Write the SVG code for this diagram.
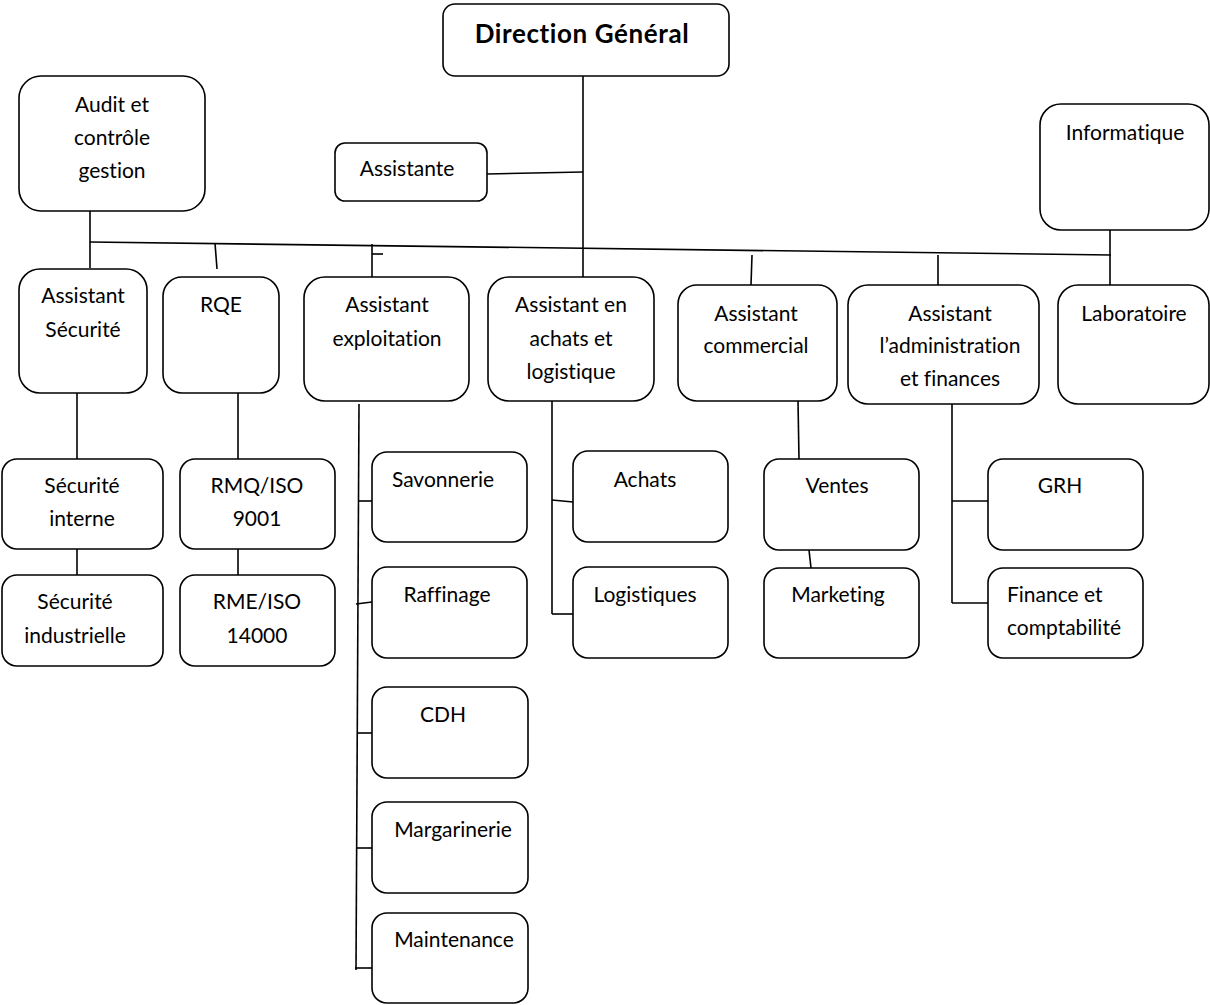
<svg xmlns="http://www.w3.org/2000/svg" width="1210" height="1005" viewBox="0 0 1210 1005">
<style>
.b{fill:#fff;stroke:#000;stroke-width:1.6}
text{font-variant-ligatures:none;font-feature-settings:"liga" 0,"clig" 0}
.t{font-family:Lato,"Liberation Sans",sans-serif;font-size:21px;fill:#000;text-anchor:middle}
.s{text-anchor:start}
.h{font-family:Lato,"Liberation Sans",sans-serif;font-size:26px;font-weight:bold;letter-spacing:0.6px;fill:#000;text-anchor:middle}
#connectors line{stroke:#000;stroke-width:1.6}
</style>
<rect width="1210" height="1005" fill="#fff"/>
<g id="connectors">
<line x1="90" y1="242" x2="1111" y2="255"/>
<line x1="90" y1="211" x2="90" y2="268"/>
<line x1="215" y1="243" x2="217" y2="269"/>
<line x1="372" y1="244" x2="372" y2="277"/>
<line x1="372" y1="254" x2="383" y2="254"/>
<line x1="583" y1="76" x2="583" y2="277"/>
<line x1="487" y1="174" x2="583" y2="172"/>
<line x1="752" y1="255" x2="751" y2="285"/>
<line x1="938" y1="255" x2="938" y2="285"/>
<line x1="1110" y1="230" x2="1110" y2="285"/>
<line x1="77" y1="393" x2="77" y2="459"/>
<line x1="77" y1="549" x2="77" y2="575"/>
<line x1="238" y1="393" x2="238" y2="459"/>
<line x1="238" y1="549" x2="238" y2="575"/>
<line x1="359" y1="404" x2="356" y2="970"/>
<line x1="359" y1="501" x2="372" y2="501"/>
<line x1="356" y1="604" x2="372" y2="602"/>
<line x1="357" y1="733" x2="372" y2="733"/>
<line x1="356" y1="848" x2="372" y2="848"/>
<line x1="355" y1="968" x2="372" y2="968"/>
<line x1="552" y1="401" x2="552" y2="614"/>
<line x1="552" y1="500" x2="573" y2="502"/>
<line x1="552" y1="614" x2="573" y2="614"/>
<line x1="798" y1="401" x2="799" y2="459"/>
<line x1="809" y1="550" x2="811" y2="568"/>
<line x1="952" y1="404" x2="952" y2="603"/>
<line x1="952" y1="501" x2="988" y2="501"/>
<line x1="952" y1="603" x2="988" y2="603"/>
</g>
<g id="direction"><rect class="b" x="443" y="4" width="286" height="72" rx="12"/><text class="h" x="582" y="43">Direction Général</text></g>
<g id="assistante"><rect class="b" x="335" y="143" width="152" height="58" rx="10"/><text class="t" x="407" y="176">Assistante</text></g>
<g id="audit"><rect class="b" x="19" y="76" width="186" height="135" rx="22"/><text class="t" x="112" y="112">Audit et</text><text class="t" x="112" y="145">contrôle</text><text class="t" x="112" y="178">gestion</text></g>
<g id="informatique"><rect class="b" x="1040" y="104" width="169" height="126" rx="21"/><text class="t" x="1125" y="140">Informatique</text></g>
<g id="assistant-securite"><rect class="b" x="19" y="269" width="128" height="124" rx="21"/><text class="t" x="83" y="303">Assistant</text><text class="t" x="83" y="337">Sécurité</text></g>
<g id="rqe"><rect class="b" x="163" y="277" width="116" height="116" rx="19"/><text class="t" x="221" y="312">RQE</text></g>
<g id="assistant-exploitation"><rect class="b" x="304" y="277" width="165" height="124" rx="21"/><text class="t" x="387" y="312">Assistant</text><text class="t" x="387" y="346">exploitation</text></g>
<g id="assistant-achats"><rect class="b" x="488" y="277" width="166" height="124" rx="21"/><text class="t" x="571" y="312">Assistant en</text><text class="t" x="571" y="346">achats et</text><text class="t" x="571" y="379">logistique</text></g>
<g id="assistant-commercial"><rect class="b" x="678" y="285" width="159" height="116" rx="19"/><text class="t" x="756" y="321">Assistant</text><text class="t" x="756" y="353">commercial</text></g>
<g id="assistant-admin"><rect class="b" x="848" y="285" width="191" height="119" rx="20"/><text class="t" x="950" y="321">Assistant</text><text class="t" x="950" y="353">l’administration</text><text class="t" x="950" y="386">et finances</text></g>
<g id="laboratoire"><rect class="b" x="1058" y="285" width="151" height="119" rx="20"/><text class="t" x="1134" y="321">Laboratoire</text></g>
<g id="securite-interne"><rect class="b" x="2" y="459" width="161" height="90" rx="15"/><text class="t" x="82" y="493">Sécurité</text><text class="t" x="82" y="526">interne</text></g>
<g id="securite-industrielle"><rect class="b" x="2" y="575" width="161" height="91" rx="15"/><text class="t" x="75" y="609">Sécurité</text><text class="t" x="75" y="643">industrielle</text></g>
<g id="rmq"><rect class="b" x="180" y="459" width="155" height="90" rx="15"/><text class="t" x="257" y="493">RMQ/ISO</text><text class="t" x="257" y="526">9001</text></g>
<g id="rme"><rect class="b" x="180" y="575" width="155" height="91" rx="15"/><text class="t" x="257" y="609">RME/ISO</text><text class="t" x="257" y="643">14000</text></g>
<g id="savonnerie"><rect class="b" x="372" y="452" width="155" height="90" rx="15"/><text class="t" x="443" y="487">Savonnerie</text></g>
<g id="raffinage"><rect class="b" x="372" y="567" width="155" height="91" rx="15"/><text class="t" x="447" y="602">Raffinage</text></g>
<g id="cdh"><rect class="b" x="372" y="687" width="156" height="91" rx="15"/><text class="t" x="443" y="722">CDH</text></g>
<g id="margarinerie"><rect class="b" x="372" y="802" width="156" height="91" rx="15"/><text class="t" x="453" y="837">Margarinerie</text></g>
<g id="maintenance"><rect class="b" x="372" y="913" width="156" height="90" rx="15"/><text class="t" x="454" y="947">Maintenance</text></g>
<g id="achats"><rect class="b" x="573" y="451" width="155" height="91" rx="15"/><text class="t" x="645" y="487">Achats</text></g>
<g id="logistiques"><rect class="b" x="573" y="567" width="155" height="91" rx="15"/><text class="t" x="645" y="602">Logistiques</text></g>
<g id="ventes"><rect class="b" x="764" y="459" width="155" height="91" rx="15"/><text class="t" x="837" y="493">Ventes</text></g>
<g id="marketing"><rect class="b" x="764" y="568" width="155" height="90" rx="15"/><text class="t" x="838" y="602">Marketing</text></g>
<g id="grh"><rect class="b" x="988" y="459" width="155" height="91" rx="15"/><text class="t" x="1060" y="493">GRH</text></g>
<g id="finance"><rect class="b" x="988" y="568" width="155" height="90" rx="15"/><text class="t s" x="1007" y="602">Finance et</text><text class="t s" x="1007" y="635">comptabilité</text></g>
</svg>
